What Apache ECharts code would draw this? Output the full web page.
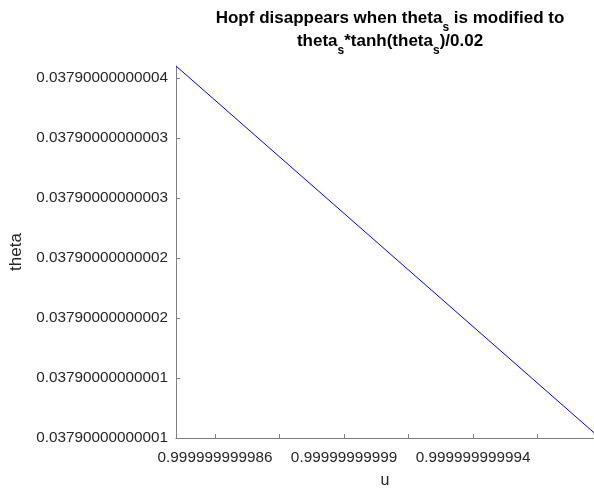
<!DOCTYPE html>
<html><head><meta charset="utf-8">
<script src="https://cdn.jsdelivr.net/npm/echarts@6/dist/echarts.min.js"></script>
<style>html,body{margin:0;padding:0;background:#fff}#c{width:594px;height:489px}</style>
</head><body><div id="c"></div>
<script>
// x values: (u - 0.99999999998) * 1e12 ; y values: theta offset in tick units
const uOffsets = [4.79, 17.75];
const thetaOffsets = [41.0, 10.44];
const xTickValues = [6, 8, 10, 12, 14, 16];
const xLabelValues = [6, 10, 14];
const xTickLabels = ['0.999999999986', '0.99999999999', '0.999999999994'];
const yTickValues = [10, 15, 20, 25, 30, 35, 40];
const yTickLabels = ['0.03790000000001', '0.03790000000001', '0.03790000000002', '0.03790000000002', '0.03790000000003', '0.03790000000003', '0.03790000000004'];

const chart = echarts.init(document.getElementById('c'));
const axisColor = '#7f7f7f';
const txt = '#262626';
const font = 'Liberation Sans, Arial, sans-serif';
chart.setOption({
  animation: false,
  title: {
    text: 'Hopf disappears when theta{s|s} is modified to\ntheta{s|s}*tanh(theta{s|s})/0.02',
    left: 385, top: 2, textAlign: 'center',
    textStyle: {
      fontFamily: font, fontSize: 17, fontWeight: 'bold', color: '#000', lineHeight: 23,
      rich: { s: { fontFamily: font, fontSize: 12, fontWeight: 'bold', color: '#000', padding: [18, 0, 0, 0] } }
    }
  },
  grid: { left: 176, right: 0, top: 66, bottom: 51, containLabel: false, outerBoundsMode: 'none' },
  xAxis: {
    type: 'value', min: 4.79, max: 17.75,
    name: 'u', nameLocation: 'middle', nameGap: 35,
    nameTextStyle: { fontFamily: font, fontSize: 16, color: txt },
    axisLine: { show: true, onZero: false, lineStyle: { color: axisColor, width: 1 } },
    axisTick: { show: true, inside: true, length: 4, customValues: xTickValues, lineStyle: { color: axisColor } },
    axisLabel: {
      customValues: xLabelValues, fontFamily: font, fontSize: 15.3, color: txt, margin: 12,
      formatter: v => xTickLabels[xLabelValues.indexOf(Math.round(v))]
    },
    splitLine: { show: false }
  },
  yAxis: {
    type: 'value', min: 10, max: 41.0,
    name: 'theta', nameLocation: 'middle', nameGap: 148, nameRotate: 90,
    nameTextStyle: { fontFamily: font, fontSize: 17, color: txt },
    axisLine: { show: true, onZero: false, lineStyle: { color: axisColor, width: 1 } },
    axisTick: { show: true, inside: true, length: 4, customValues: yTickValues, lineStyle: { color: axisColor } },
    axisLabel: {
      customValues: yTickValues, fontFamily: font, fontSize: 15.3, color: txt, margin: 8,
      formatter: v => yTickLabels[yTickValues.indexOf(Math.round(v))]
    },
    splitLine: { show: false }
  },
  series: [{
    type: 'line', data: uOffsets.map((x, i) => [x, thetaOffsets[i]]),
    showSymbol: false, lineStyle: { color: '#0000ff', width: 1 }
  }]
});
</script></body></html>
